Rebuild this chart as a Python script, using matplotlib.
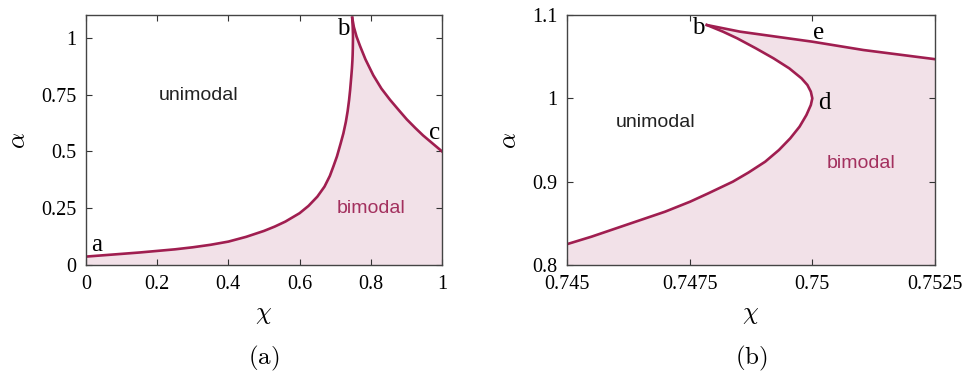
import numpy as np
import matplotlib
matplotlib.use("Agg")
import matplotlib.pyplot as plt

plt.rcParams['mathtext.fontset'] = 'cm'

# panel (a): lower branch a -> b (incl. the tiny nose near the cusp)
chi_low_a = [0.0, 0.05, 0.1, 0.15, 0.2, 0.25, 0.3, 0.35, 0.4, 0.45, 0.5, 0.53, 0.56, 0.6,
             0.625, 0.65, 0.67, 0.685, 0.695, 0.705, 0.715, 0.723, 0.73, 0.735, 0.739, 0.742,
             0.745, 0.746, 0.747, 0.7475, 0.7484, 0.74904, 0.74955, 0.75, 0.7499, 0.74921, 0.74785]
alpha_low_a = [0.037, 0.043, 0.049, 0.055, 0.062, 0.069, 0.078, 0.089, 0.103, 0.124, 0.150, 0.169, 0.191, 0.228,
               0.260, 0.301, 0.345, 0.392, 0.434, 0.478, 0.533, 0.579, 0.630, 0.677, 0.725, 0.770,
               0.825, 0.844, 0.864, 0.876, 0.900, 0.924, 0.952, 1.0, 1.016, 1.048, 1.088]
# upper branch b -> c
chi_up_a = [0.74785, 0.7525, 0.76, 0.77, 0.785, 0.807, 0.83, 0.854, 0.88, 0.901, 0.925, 0.947, 0.975, 1.0]
alpha_up_a = [1.088, 1.047, 1.005, 0.963, 0.905, 0.835, 0.776, 0.727, 0.679, 0.641, 0.603, 0.570, 0.533, 0.5]

# panel (b): zoom on the cusp, lower branch -> d -> b
chi_low_b = [0.74500, 0.74550, 0.74600, 0.74650, 0.74700, 0.74751, 0.74788, 0.74838, 0.74870,
             0.74904, 0.74932, 0.74955, 0.74974, 0.74988, 0.74997, 0.75000,
             0.74997, 0.74990, 0.74978, 0.74953, 0.74921, 0.74885, 0.74847, 0.74818, 0.74785]
alpha_low_b = [0.825, 0.834, 0.844, 0.854, 0.864, 0.876, 0.886, 0.900, 0.911,
               0.924, 0.938, 0.952, 0.966, 0.980, 0.992, 1.000,
               1.008, 1.016, 1.024, 1.036, 1.048, 1.060, 1.072, 1.080, 1.088]
# line b -> e
chi_e = [0.74785, 0.74853, 0.75000, 0.75104, 0.7525]
alpha_e = [1.088, 1.080, 1.068, 1.058, 1.047]

line_c = '#a01e50'
fill_c = '#f2e1e8'
text_c = '#a3305e'

fig = plt.figure(figsize=(9.68, 3.8), dpi=100)
ax1 = fig.add_axes([0.0888, 0.3026, 0.3678, 0.6579])
ax2 = fig.add_axes([0.5857, 0.3026, 0.3802, 0.6579])

lblfont = {'family': 'Liberation Serif', 'size': 18}

def style(ax):
    ax.tick_params(direction='in', top=True, right=True, length=4, width=0.8,
                   colors='#333333', pad=7)
    for lab in ax.get_xticklabels() + ax.get_yticklabels():
        lab.set_fontfamily('Liberation Serif')
        lab.set_fontsize(14.5)
        lab.set_color('black')
    for s in ax.spines.values():
        s.set_color('#444444')
        s.set_linewidth(1.0)

# ---- panel (a)
px = chi_low_a + chi_up_a + [1.0, 0.0]
py = alpha_low_a + alpha_up_a + [0.0, 0.0]
ax1.fill(px, py, color=fill_c, lw=0)
ax1.plot(chi_low_a, alpha_low_a, color=line_c, lw=1.9)
ax1.plot(chi_up_a, alpha_up_a, color=line_c, lw=1.9)
ax1.set_xlim(0, 1)
ax1.set_ylim(0, 1.1)
ax1.set_xticks([0, 0.2, 0.4, 0.6, 0.8, 1])
ax1.set_xticklabels(['0', '0.2', '0.4', '0.6', '0.8', '1'])
ax1.set_yticks([0, 0.25, 0.5, 0.75, 1])
ax1.set_yticklabels(['0', '0.25', '0.5', '0.75', '1'])
style(ax1)
ax1.text(0.315, 0.747, 'unimodal', fontsize=14, family='Liberation Sans', ha='center', va='center', color='#222222')
ax1.text(0.80, 0.25, 'bimodal', fontsize=14, family='Liberation Sans', ha='center', va='center', color=text_c)
ax1.text(0.030, 0.088, 'a', ha='center', va='center', **lblfont)
ax1.text(0.723, 1.04, 'b', ha='center', va='center', **lblfont)
ax1.text(0.978, 0.58, 'c', ha='center', va='center', **lblfont)
ax1.set_xlabel(r'$\chi$', fontsize=18, labelpad=6)
ax1.set_ylabel(r'$\alpha$', fontsize=18, labelpad=8)
fig.text(0.2727, 0.058, r'$\mathrm{(a)}$', fontsize=18, ha='center', va='center')

# ---- panel (b)
qx = chi_low_b + chi_e + [0.7525, 0.745]
qy = alpha_low_b + alpha_e + [0.8, 0.8]
ax2.fill(qx, qy, color=fill_c, lw=0)
ax2.plot(chi_low_b, alpha_low_b, color=line_c, lw=1.9)
ax2.plot(chi_e, alpha_e, color=line_c, lw=1.9)
ax2.set_xlim(0.745, 0.7525)
ax2.set_ylim(0.8, 1.1)
ax2.set_xticks([0.745, 0.7475, 0.75, 0.7525])
ax2.set_xticklabels(['0.745', '0.7475', '0.75', '0.7525'])
ax2.set_yticks([0.8, 0.9, 1.0, 1.1])
ax2.set_yticklabels(['0.8', '0.9', '1', '1.1'])
style(ax2)
ax2.text(0.74680, 0.971, 'unimodal', fontsize=14, family='Liberation Sans', ha='center', va='center', color='#222222')
ax2.text(0.75100, 0.922, 'bimodal', fontsize=14, family='Liberation Sans', ha='center', va='center', color=text_c)
ax2.text(0.74768, 1.084, 'b', ha='center', va='center', **lblfont)
ax2.text(0.75012, 1.078, 'e', ha='center', va='center', **lblfont)
ax2.text(0.75025, 0.995, 'd', ha='center', va='center', **lblfont)
ax2.set_xlabel(r'$\chi$', fontsize=18, labelpad=6)
ax2.set_ylabel(r'$\alpha$', fontsize=18, labelpad=8)
fig.text(0.7758, 0.058, r'$\mathrm{(b)}$', fontsize=18, ha='center', va='center')

fig.savefig('out.png', dpi=100)
